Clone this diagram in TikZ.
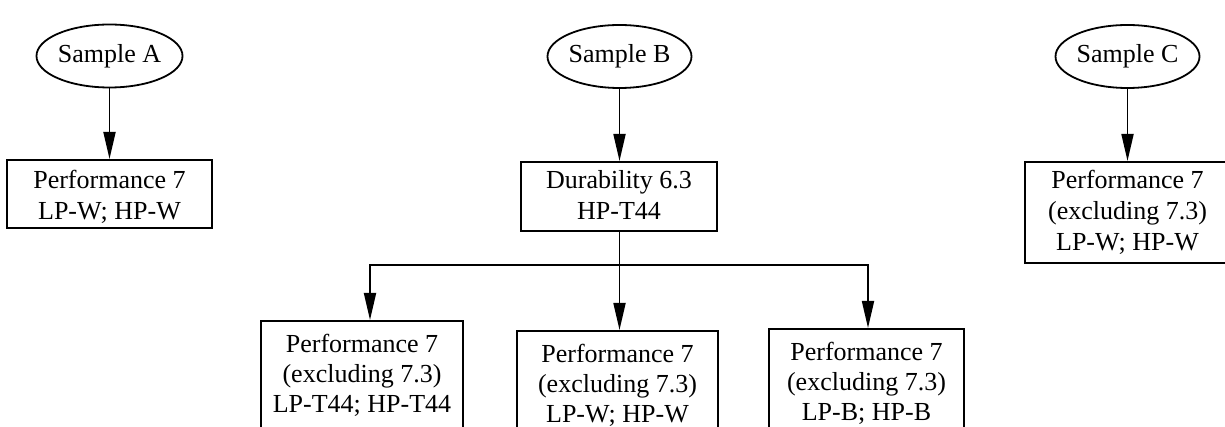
\documentclass[tikz,border=0pt]{standalone}
\usepackage{fontspec}
\setmainfont{Liberation Serif}
\usetikzlibrary{shapes.geometric,arrows.meta,calc}
\newcommand{\boxlines}[1]{\begin{tabular}[t]{@{}c@{}}#1\end{tabular}}
\begin{document}
\begin{tikzpicture}[x=1pt,y=-1pt,
  every node/.style={font=\fontsize{26}{31}\selectfont, line width=1.8pt},
  sample/.style={draw, ellipse, minimum width=142pt, minimum height=63pt, inner sep=0pt},
  box/.style={draw, rectangle, inner sep=0pt, anchor=north},
  lowbox/.style={box, font=\fontsize{26}{30}\selectfont, text height=32pt, text depth=100pt},
  arr/.style={line width=1.8pt, -{Triangle[length=27pt,width=12pt]}},
  conn/.style={line width=1.8pt}]
\useasboundingbox (0,0) rectangle (1225,427);
\node[sample] (sA) at (109.5,56) {Sample A};
\node[sample] (sB) at (619.5,56.5) {Sample B};
\node[sample] (sC) at (1127.5,56.5) {Sample C};
\node[box, minimum width=205pt, text height=29pt, text depth=39pt] (bA) at (109.5,159) {\boxlines{Performance 7\\LP-W; HP-W}};
\node[box, minimum width=196pt, text height=27pt, text depth=42pt] (bB) at (619,161) {\boxlines{Durability 6.3\\HP-T44}};
\node[box, minimum width=205pt, text height=27pt, text depth=74pt] (bC) at (1127.5,161) {\boxlines{Performance 7\\(excluding 7.3)\\LP-W; HP-W}};
\node[lowbox, minimum width=202pt] (p1) at (362,320) {\boxlines{Performance 7\\(excluding 7.3)\\LP-T44; HP-T44}};
\node[lowbox, minimum width=201pt] (p2) at (617.5,330) {\boxlines{Performance 7\\(excluding 7.3)\\LP-W; HP-W}};
\node[lowbox, minimum width=195pt] (p3) at (866.5,328) {\boxlines{Performance 7\\(excluding 7.3)\\LP-B; HP-B}};
\coordinate (j) at (619.5,265);
\draw[arr] (sA) -- (bA);
\draw[arr] (sB.south) -- (sB.south |- bB.north);
\draw[arr] (sC) -- (bC);
\draw[conn] (bB.south -| j) -- (j);
\draw[arr] (j) -| ([xshift=8pt]p1.north);
\draw[arr] (j) -- (j |- p2.north);
\draw[arr] (j) -| ([xshift=1.5pt]p3.north);
\end{tikzpicture}
\end{document}
